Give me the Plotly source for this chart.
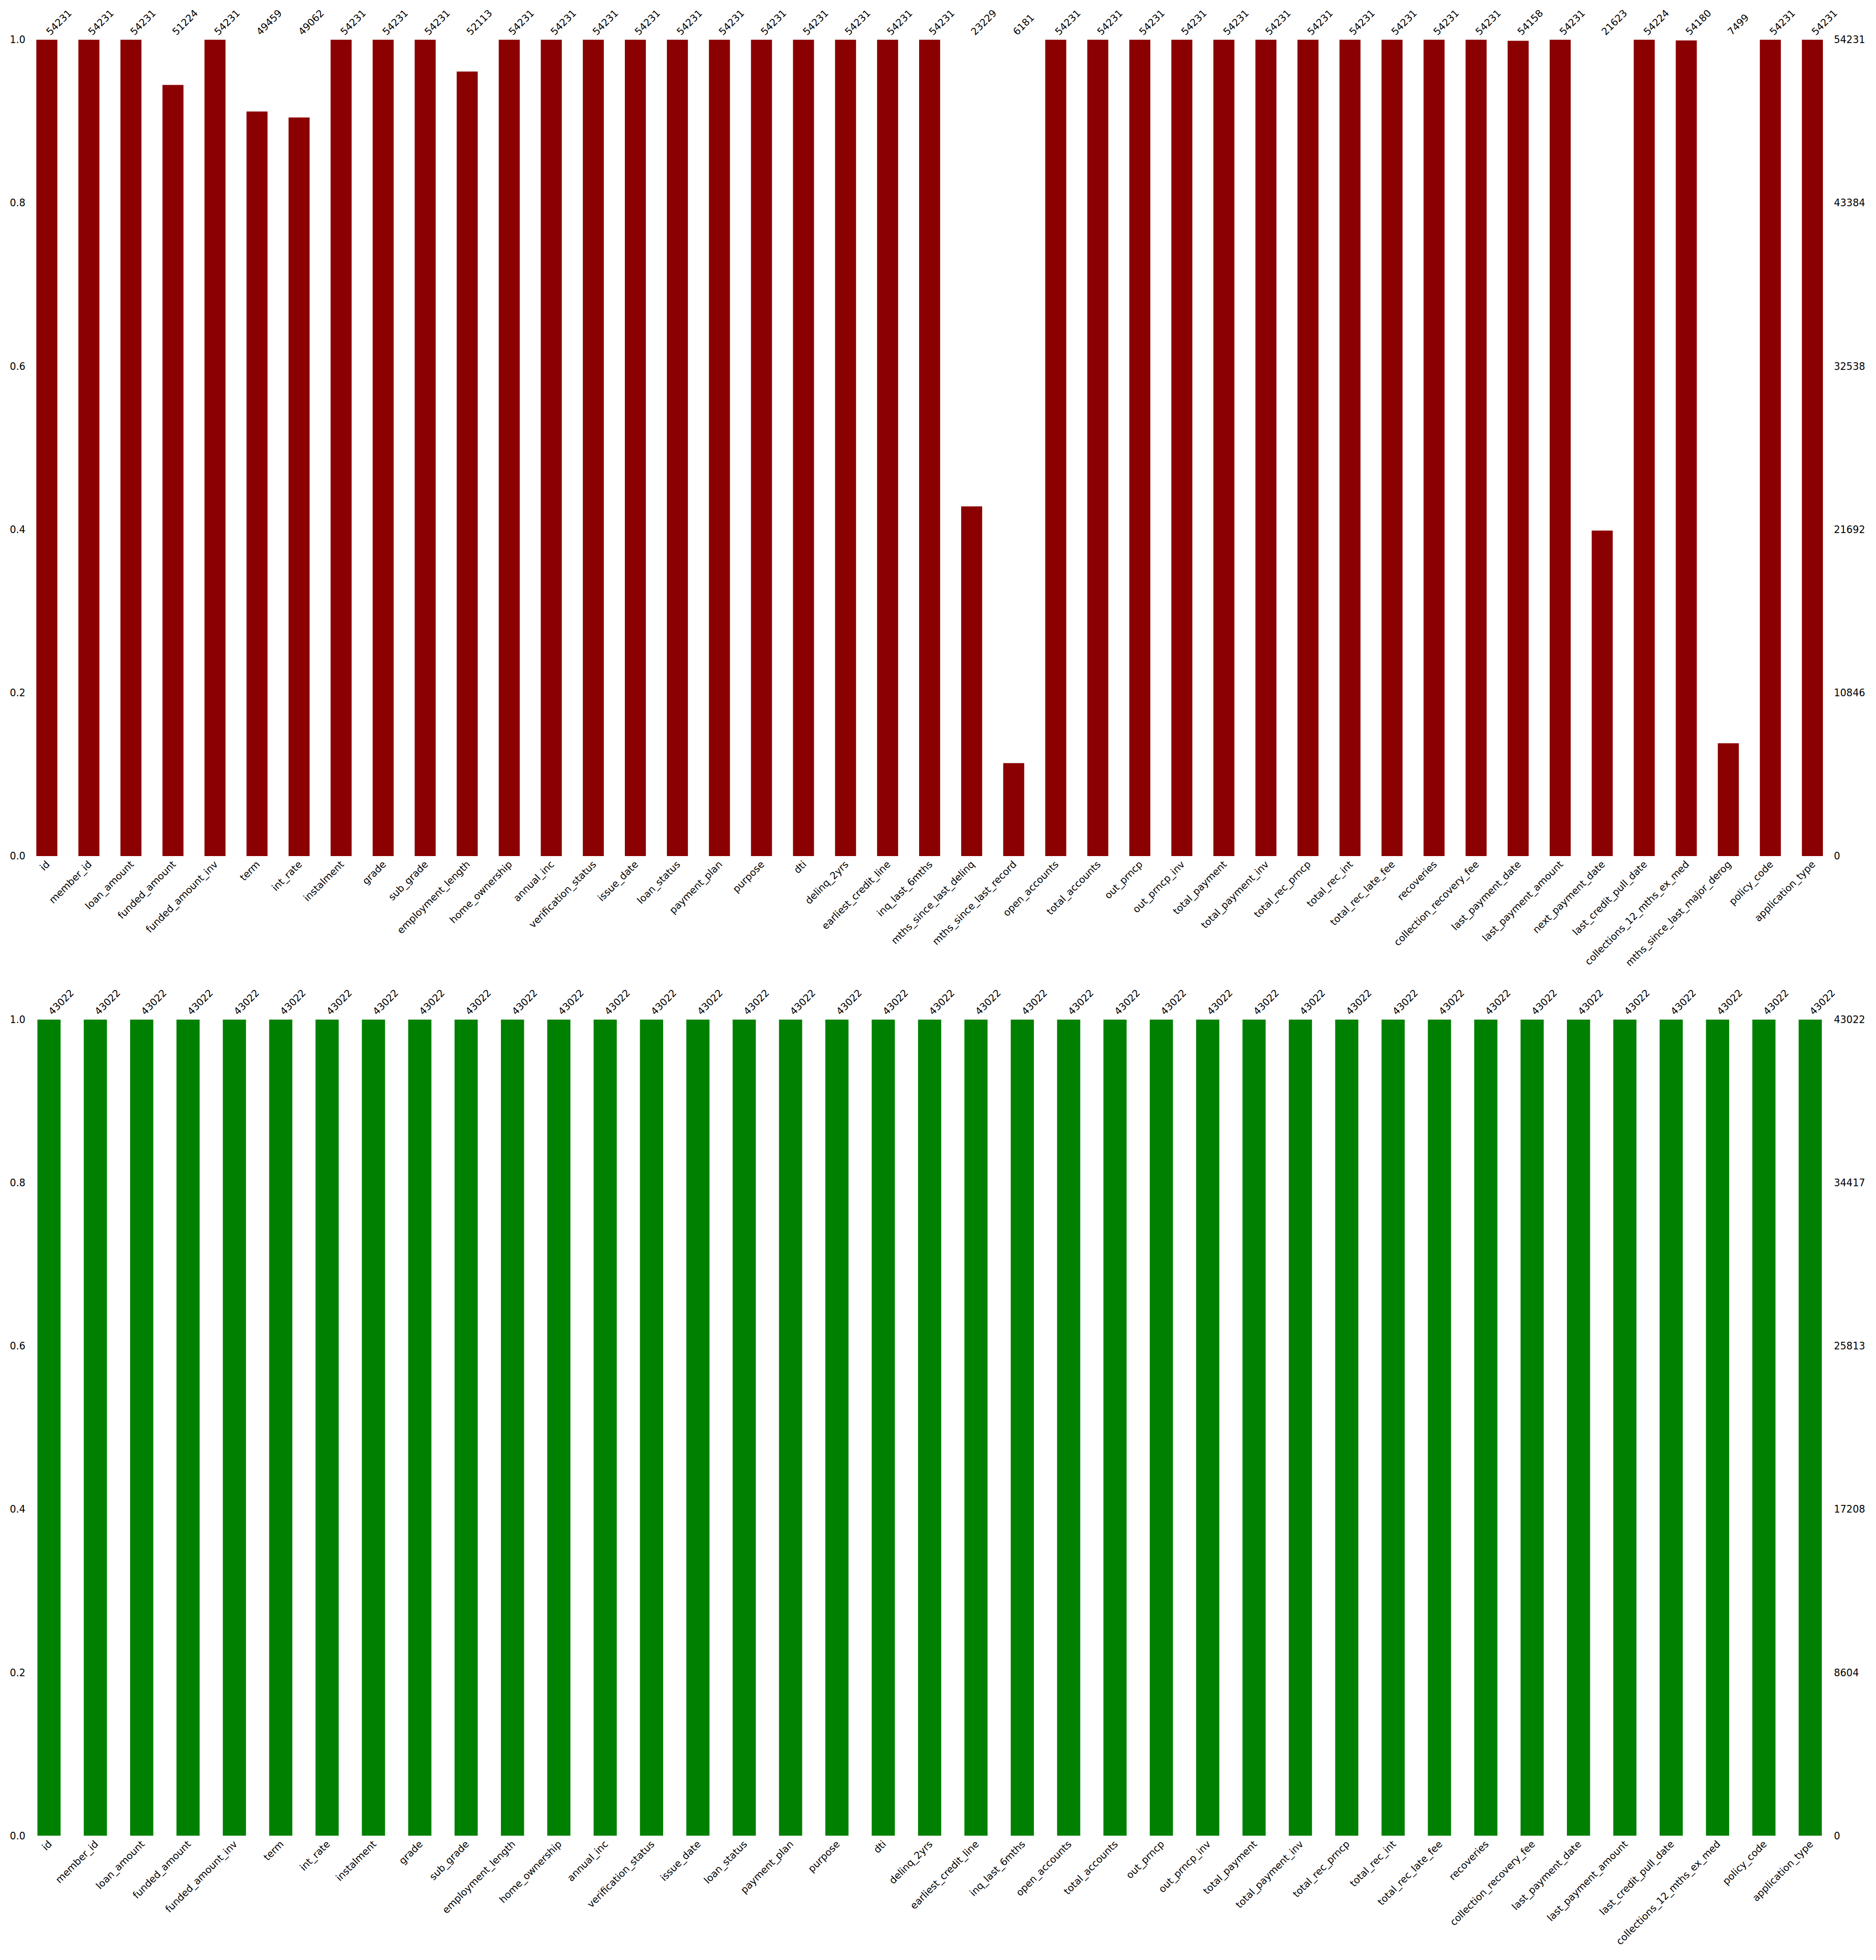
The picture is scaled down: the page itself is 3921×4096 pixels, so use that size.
import plotly.graph_objects as go

# ---------------- data ----------------
top_columns = ["id", "member_id", "loan_amount", "funded_amount", "funded_amount_inv", "term",
               "int_rate", "instalment", "grade", "sub_grade", "employment_length", "home_ownership",
               "annual_inc", "verification_status", "issue_date", "loan_status", "payment_plan",
               "purpose", "dti", "delinq_2yrs", "earliest_credit_line", "inq_last_6mths",
               "mths_since_last_delinq", "mths_since_last_record", "open_accounts", "total_accounts",
               "out_prncp", "out_prncp_inv", "total_payment", "total_payment_inv", "total_rec_prncp",
               "total_rec_int", "total_rec_late_fee", "recoveries", "collection_recovery_fee",
               "last_payment_date", "last_payment_amount", "next_payment_date", "last_credit_pull_date",
               "collections_12_mths_ex_med", "mths_since_last_major_derog", "policy_code",
               "application_type"]
top_counts = [54231, 54231, 54231, 51224, 54231, 49459, 49062, 54231, 54231, 54231, 52113, 54231,
              54231, 54231, 54231, 54231, 54231, 54231, 54231, 54231, 54231, 54231, 23229, 6181,
              54231, 54231, 54231, 54231, 54231, 54231, 54231, 54231, 54231, 54231, 54231, 54158,
              54231, 21623, 54224, 54180, 7499, 54231, 54231]
top_rows = 54231
top_right_ticks = ["0", "10846", "21692", "32538", "43384", "54231"]

bottom_columns = ["id", "member_id", "loan_amount", "funded_amount", "funded_amount_inv", "term",
                  "int_rate", "instalment", "grade", "sub_grade", "employment_length", "home_ownership",
                  "annual_inc", "verification_status", "issue_date", "loan_status", "payment_plan",
                  "purpose", "dti", "delinq_2yrs", "earliest_credit_line", "inq_last_6mths",
                  "open_accounts", "total_accounts", "out_prncp", "out_prncp_inv", "total_payment",
                  "total_payment_inv", "total_rec_prncp", "total_rec_int", "total_rec_late_fee",
                  "recoveries", "collection_recovery_fee", "last_payment_date", "last_payment_amount",
                  "last_credit_pull_date", "collections_12_mths_ex_med", "policy_code",
                  "application_type"]
bottom_counts = [43022] * 39
bottom_rows = 43022
bottom_right_ticks = ["0", "8604", "17208", "25813", "34417", "43022"]

left_tick_vals = [0.0, 0.2, 0.4, 0.6, 0.8, 1.0]
left_tick_text = ["0.0", "0.2", "0.4", "0.6", "0.8", "1.0"]

# ---------------- figure ----------------
W, H = 3921, 4096
FS = 20.5
FONT = dict(family="DejaVu Sans", size=FS, color="black")

top_frac = [c / top_rows for c in top_counts]
bottom_frac = [c / bottom_rows for c in bottom_counts]

fig = go.Figure()
fig.add_trace(go.Bar(x=top_columns, y=top_frac, marker=dict(color="#8B0000", line=dict(width=0)),
                     xaxis="x", yaxis="y", showlegend=False))
fig.add_trace(go.Bar(x=top_columns, y=top_frac, marker=dict(color="rgba(0,0,0,0)", line=dict(width=0)),
                     xaxis="x2", yaxis="y2", showlegend=False, hoverinfo="skip"))
fig.add_trace(go.Bar(x=bottom_columns, y=bottom_frac, marker=dict(color="#008000", line=dict(width=0)),
                     xaxis="x3", yaxis="y3", showlegend=False))
fig.add_trace(go.Bar(x=bottom_columns, y=bottom_frac, marker=dict(color="rgba(0,0,0,0)", line=dict(width=0)),
                     xaxis="x4", yaxis="y4", showlegend=False, hoverinfo="skip"))

common_x = dict(showgrid=False, zeroline=False, showline=False, ticks="", tickangle=-45,
                tickfont=FONT, type="category")
common_y = dict(showgrid=False, zeroline=False, showline=False, ticks="", range=[0, 1],
                tickmode="array", tickfont=FONT)

top_dom = [1 - 1789.1 / H, 1 - 82.9 / H]
bot_dom = [1 - 3836.6 / H, 1 - 2130.4 / H]
nt, nb = len(top_columns), len(bottom_columns)

fig.update_layout(
    width=W, height=H,
    margin=dict(l=54, r=89, t=0, b=0, autoexpand=False),
    paper_bgcolor="white", plot_bgcolor="white",
    bargap=0.5, font=FONT,
    xaxis=dict(common_x, domain=[0, 1], anchor="y", range=[-0.5, nt - 0.5]),
    xaxis2=dict(common_x, overlaying="x", side="top", anchor="y", range=[-0.5, nt - 0.5],
                tickmode="array", tickvals=top_columns, ticktext=[str(c) for c in top_counts]),
    yaxis=dict(common_y, domain=top_dom, anchor="x", tickvals=left_tick_vals, ticktext=left_tick_text),
    yaxis2=dict(common_y, overlaying="y", side="right", anchor="x",
                tickvals=left_tick_vals, ticktext=top_right_ticks),
    xaxis3=dict(common_x, domain=[0, 1], anchor="y3", range=[-0.5, nb - 0.5]),
    xaxis4=dict(common_x, overlaying="x3", side="top", anchor="y3", range=[-0.5, nb - 0.5],
                tickmode="array", tickvals=bottom_columns, ticktext=[str(c) for c in bottom_counts]),
    yaxis3=dict(common_y, domain=bot_dom, anchor="x3", tickvals=left_tick_vals, ticktext=left_tick_text),
    yaxis4=dict(common_y, overlaying="y3", side="right", anchor="x3",
                tickvals=left_tick_vals, ticktext=bottom_right_ticks),
)

fig.write_html("out.html")
